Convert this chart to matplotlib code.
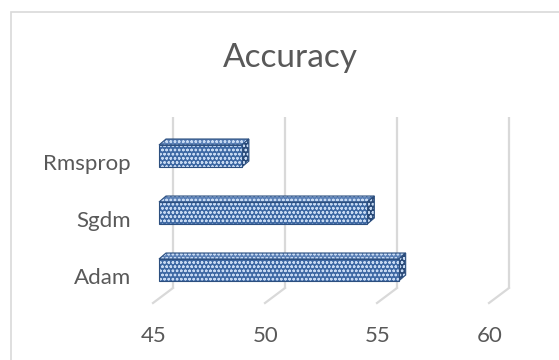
import matplotlib
matplotlib.use("Agg")
import matplotlib.pyplot as plt
from matplotlib.colors import to_rgba
from matplotlib.patches import Polygon, Rectangle
from matplotlib.transforms import ScaledTranslation, blended_transform_factory

# ---- data ----
categories = ["Adam", "Sgdm", "Rmsprop"]
accuracy = [55.7, 54.3, 48.7]
x_ticks = [45, 50, 55, 60]
x_min, x_max = 45, 60
title = "Accuracy"

# ---- style ----
plt.rcParams["font.family"] = ["Lato", "DejaVu Sans"]
plt.rcParams["hatch.linewidth"] = 0.65
text_color = "#595959"
grid_color = "#d9d9d9"
front_color = "#3d68a3"
top_color = "#5a80b6"
side_color = "#2a4a78"
edge_color = "#2c4f7f"
hatch_color = "#c6d9f2"
pattern = "oooo"

W, H, DPI = 559, 360, 100
fig = plt.figure(figsize=(W / DPI, H / DPI), dpi=DPI)
fig.patch.set_facecolor("white")

# chart-area border (left/top visible, right/bottom run past the canvas)
fig.patches.append(Rectangle((11 / W, -0.1), 1.2, (H - 12) / H + 0.1,
                             transform=fig.transFigure, fill=False,
                             edgecolor=grid_color, linewidth=1.2))

# plot plane of the bar front faces, in pixels
left_px, right_px, top_px, bottom_px = 159, 495, 127.5, 298.5
ax = fig.add_axes([left_px / W, 1 - bottom_px / H,
                   (right_px - left_px) / W, (bottom_px - top_px) / H])
ax.set_xlim(x_min, x_max)
ax.set_ylim(-0.5, len(categories) - 0.5)
ax.axis("off")

px_per_x = (right_px - left_px) / (x_max - x_min)
px_per_y = (bottom_px - top_px) / len(categories)


def shift(dx_px, dy_px):
    return ScaledTranslation(dx_px / DPI, dy_px / DPI, fig.dpi_scale_trans)


back = ax.transData + shift(14, 10.5)
front = ax.transData + shift(-6, -4.5)
y0, y1 = ax.get_ylim()

# gridlines: vertical on the back wall, diagonal across the floor
for t in x_ticks:
    ax.plot([t, t], [y0, y1], color=grid_color, lw=1.6, transform=back,
            clip_on=False, zorder=0, solid_capstyle="butt")
    bx, by = back.transform((t, y0))
    fx, fy = front.transform((t, y0))
    ax.plot([bx, fx], [by, fy], color=grid_color, lw=1.6,
            transform=None, clip_on=False, zorder=0)

# bars with depth
bar_h = 22 / px_per_y
ddx = 7 / px_per_x
ddy = 6 / px_per_y
for i, v in enumerate(accuracy):
    top = i + bar_h / 2
    bot = i - bar_h / 2
    top_face = Polygon([(x_min, top), (v, top), (v + ddx, top + ddy),
                        (x_min + ddx, top + ddy)], closed=True,
                       facecolor=top_color, edgecolor=edge_color, lw=0.8,
                       hatch=pattern, clip_on=False, zorder=2)
    side_face = Polygon([(v, bot), (v, top), (v + ddx, top + ddy),
                         (v + ddx, bot + ddy)], closed=True,
                        facecolor=side_color, edgecolor=edge_color, lw=0.8,
                        hatch=pattern, clip_on=False, zorder=2)
    for p in (top_face, side_face):
        p._hatch_color = to_rgba(hatch_color)
        ax.add_patch(p)

bars = ax.barh(range(len(categories)), [v - x_min for v in accuracy],
               left=x_min, height=bar_h, color=front_color,
               edgecolor=edge_color, linewidth=0.8, hatch=pattern,
               clip_on=False, zorder=3)
for b in bars:
    b._hatch_color = to_rgba(hatch_color)

# category labels
for i, name in enumerate(categories):
    ax.text(x_min, i, name, transform=ax.transData + shift(-28, -14),
            ha="right", va="baseline", fontsize=16, color=text_color)

# value axis labels on the front floor edge
tick_tr = blended_transform_factory(ax.transData, ax.transAxes) + shift(-5, -43.5)
for t in x_ticks:
    ax.text(t, 0, str(t), transform=tick_tr, ha="center", va="baseline",
            fontsize=16, color=text_color)

fig.text(290 / W, 1 - 67 / H, title, ha="center", va="baseline",
         fontsize=24, color=text_color)

fig.savefig("out.png", dpi=DPI, facecolor="white")
